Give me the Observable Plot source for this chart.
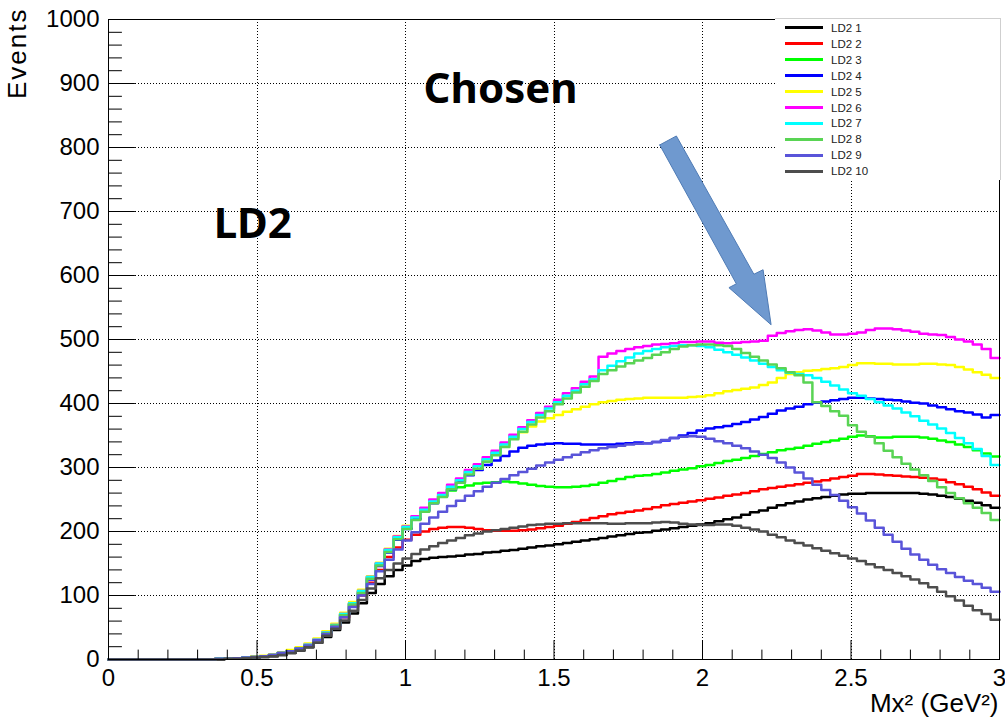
<!DOCTYPE html>
<html>
<head>
<meta charset="utf-8">
<script src="https://cdn.jsdelivr.net/npm/d3@7"></script>
<script src="https://cdn.jsdelivr.net/npm/@observablehq/plot@0.6"></script>
<style>
html, body { margin: 0; padding: 0; background: #fff; }
#wrap { position: relative; width: 1005px; height: 719px; overflow: hidden; background: #fff; }
#legend { position: absolute; left: 775px; top: 18px; width: 226px; height: 162px; background: #fff;
  border-top: 1px solid #cfcfcf; border-right: 1px solid #cfcfcf; box-sizing: border-box;
  font-family: "Liberation Sans", Arial, sans-serif; }
.lrow { position: absolute; left: 0; width: 100%; height: 16px; }
.lline { position: absolute; left: 10px; width: 38px; height: 3px; top: 6.5px; }
.ltext { position: absolute; left: 56px; top: 0; font-size: 11.5px; line-height: 16px; color: #222; white-space: pre; }
</style>
</head>
<body>
<div id="wrap"><div id="legend"></div></div>
<script>
// ---------- data ----------
const binWidth = 0.03; // 100 bins over [0, 3]
const seriesNames = ["LD2 1", "LD2 2", "LD2 3", "LD2 4", "LD2 5", "LD2 6", "LD2 7", "LD2 8", "LD2 9", "LD2 10"];
const seriesColors = ["#000000", "#ff0000", "#00ff00", "#0000ff", "#ffff00", "#ff00ff", "#00ffff", "#59d454", "#5954d9", "#4d4d4d"];

const ld2_1 = [0,0,0,0,0,0,0,0,0,0,0,0,
  0,1,1,2,3,4,5,7,10,14,19,26,
  35,46,58,72,88,104,118,130,140,147,154,157,159,160,
  161,162,164,165,167,168,170,171,173,175,177,178,180,182,184,186,188,190,192,194,196,198,
  199,201,203,205,207,209,211,
  213,216,219,222,226,230,233,237,241,244,247,250,252,254,256,258,259,259,260,260,260,260,260,260,259,258,256,254,251,248,245,241,237];
const ld2_2 = [0,0,0,0,0,0,0,0,0,0,0,0,
  1,1,2,3,4,5,7,10,13,17,22,30,
  40,51,66,83,100,120,140,160,175,187,195,200,204,206,
  207,207,206,204,202,201,201,201,202,203,205,207,209,212,215,218,221,224,227,229,231,233,
  235,238,241,243,245,247,249,
  251,253,256,258,260,263,266,268,270,272,274,276,278,280,283,285,287,290,290,289,288,287,286,285,284,283,281,277,274,270,266,261,256];
const ld2_3 = [0,0,0,0,0,0,0,0,0,0,0,0,
  1,1,2,3,4,5,7,10,13,17,23,31,
  42,54,71,88,106,128,149,170,190,205,220,234,246,256,
  264,269,272,275,276,277,278,277,275,273,271,270,269,269,270,271,273,276,279,282,285,287,
  288,290,292,295,297,299,302,
  304,307,310,312,315,318,321,324,327,329,331,334,337,340,342,345,348,350,349,347,347,348,348,348,347,345,342,340,336,332,327,322,317];
const ld2_4 = [0,0,0,0,0,0,0,0,0,0,0,0,
  1,1,2,3,4,5,7,10,13,17,23,31,
  42,54,70,87,104,125,146,167,187,204,219,232,244,255,
  266,277,288,296,304,311,318,325,331,334,336,337,338,337,337,336,336,336,336,337,338,339,
  338,340,342,346,350,354,358,
  361,363,365,368,371,375,379,384,389,392,395,399,401,403,405,407,409,409,408,407,406,405,403,401,400,397,394,391,388,386,383,378,382];
const ld2_5 = [0,0,0,0,0,0,0,0,0,0,0,0,
  1,1,2,3,5,6,8,11,15,19,25,33,
  44,56,73,90,109,130,151,173,193,209,223,236,249,259,
  271,281,294,302,312,323,335,346,355,364,372,377,382,387,391,395,399,402,404,406,407,408,
  409,409,409,409,409,410,411,
  413,416,419,421,423,425,429,433,440,446,449,451,452,454,455,457,460,463,463,462,462,461,461,461,462,462,461,460,457,453,449,445,440];
const ld2_6 = [0,0,0,0,0,0,0,0,0,0,0,0,
  1,1,2,3,4,5,7,10,13,17,23,31,
  42,54,71,88,107,129,150,172,192,208,224,237,250,260,
  273,283,296,305,316,326,339,351,363,374,385,395,406,416,424,434,442,473,478,482,485,488,
  490,492,493,494,496,496,497,
  497,495,494,495,496,497,498,506,510,513,515,516,514,511,508,508,509,511,515,517,517,516,514,512,509,508,507,504,500,497,492,485,471];
const ld2_7 = [0,0,0,0,0,0,0,0,0,0,0,0,
  1,1,2,3,4,5,7,10,13,17,23,31,
  42,54,71,88,107,129,150,171,191,207,222,234,247,257,
  270,280,293,302,313,323,336,348,360,371,382,392,402,412,420,430,438,452,459,466,472,478,
  482,485,488,490,491,491,490,
  488,484,480,476,472,467,462,457,452,448,446,444,440,434,428,422,416,412,407,402,397,392,386,380,373,367,361,354,346,338,329,318,304];
const ld2_8 = [0,0,0,0,0,0,0,0,0,0,0,0,
  1,1,2,3,4,5,7,10,13,17,22,30,
  41,53,69,86,104,126,147,168,188,204,218,231,244,254,
  266,276,289,298,309,319,332,344,356,367,378,388,399,408,417,426,435,446,452,458,463,467,
  471,476,480,485,489,491,492,
  492,491,490,485,479,473,467,461,455,449,444,433,402,396,388,381,366,356,348,338,326,316,306,297,288,279,269,260,252,244,237,229,218];
const ld2_9 = [0,0,0,0,0,0,0,0,0,0,0,0,
  1,1,2,3,4,5,7,10,13,17,22,30,
  40,51,66,82,100,118,138,156,172,186,199,212,222,231,
  240,248,256,263,270,276,282,288,293,298,303,308,312,316,320,324,327,330,332,334,336,337,
  338,340,343,346,348,349,348,
  345,341,338,334,330,325,320,315,308,300,292,283,273,265,257,248,238,228,217,206,195,184,173,164,156,148,141,135,129,123,118,112,106];
const ld2_10 = [0,0,0,0,0,0,0,0,0,0,0,0,
  0,1,1,2,3,4,5,7,10,14,19,26,
  37,48,61,76,93,111,127,140,150,158,165,172,177,182,
  186,190,194,197,200,202,204,206,208,210,211,212,212,213,213,213,213,213,212,212,213,213,
  213,214,215,214,212,211,210,
  210,211,211,209,206,203,200,195,191,186,182,178,174,170,166,162,158,154,149,144,140,135,130,125,119,113,106,99,92,84,77,71,62];
const seriesValues = [ld2_1, ld2_2, ld2_3, ld2_4, ld2_5, ld2_6, ld2_7, ld2_8, ld2_9, ld2_10];

const xMajorTicks = [0, 0.5, 1, 1.5, 2, 2.5, 3];
const xGridLines = [0.5, 1, 1.5, 2, 2.5];
const yMajorTicks = [0, 100, 200, 300, 400, 500, 600, 700, 800, 900, 1000];
const yGridLines = [100, 200, 300, 400, 500, 600, 700, 800, 900];
const xMinorTicks = d3.range(1, 30).map(k => k / 10).filter(v => Math.abs(v * 2 - Math.round(v * 2)) > 1e-9);
const yMinorTicks = d3.range(20, 1000, 20).filter(v => v % 100 !== 0);

const annotations = [
  {label: "LD2", x: 0.354, y: 659},
  {label: "Chosen", x: 1.061, y: 869}
];
// block arrow outline, in data coordinates
const arrowOutline = [
  {x: 1.856, y: 804}, {x: 1.912, y: 818}, {x: 2.173, y: 602}, {x: 2.204, y: 609},
  {x: 2.231, y: 523}, {x: 2.089, y: 581}, {x: 2.114, y: 587}, {x: 1.856, y: 804}
];
const xTitle = "Mx² (GeV²)";
const yTitle = "Events";

// ---------- marks ----------
const tickShape = {draw(context, l) { context.moveTo(0, 0); context.lineTo(0, -l); }};

const histMarks = seriesValues.map((vals, k) => {
  const pts = vals.map((v, i) => ({x: i * binWidth, y: v}));
  pts.push({x: vals.length * binWidth, y: vals[vals.length - 1]});
  return Plot.line(pts, {x: "x", y: "y", curve: "step-after", stroke: seriesColors[k], strokeWidth: 2.5});
});

const chart = Plot.plot({
  width: 1005,
  height: 719,
  marginLeft: 108,
  marginRight: 6,
  marginTop: 19,
  marginBottom: 60,
  style: {fontFamily: "'Liberation Sans', Arial, sans-serif", fontSize: "24px", color: "black", background: "white"},
  x: {domain: [0, 3], ticks: xMajorTicks, tickFormat: d => String(d), tickSize: 0, tickPadding: 9, label: null},
  y: {domain: [0, 1000], ticks: yMajorTicks, tickFormat: d => String(d), tickSize: 0, tickPadding: 9, label: null},
  marks: [
    Plot.ruleX(xGridLines, {stroke: "black", strokeWidth: 1, strokeDasharray: "1,2", shapeRendering: "crispEdges"}),
    Plot.ruleY(yGridLines, {stroke: "black", strokeWidth: 1, strokeDasharray: "1,2", shapeRendering: "crispEdges"}),
    ...histMarks,
    Plot.frame({stroke: "black", strokeWidth: 1, shapeRendering: "crispEdges"}),
    Plot.vector(yMajorTicks, {y: d => d, frameAnchor: "left", rotate: 90, length: 26, anchor: "start", shape: tickShape, stroke: "black", strokeWidth: 1}),
    Plot.vector(yMinorTicks, {y: d => d, frameAnchor: "left", rotate: 90, length: 13, anchor: "start", shape: tickShape, stroke: "black", strokeWidth: 1}),
    Plot.vector(xMajorTicks, {x: d => d, frameAnchor: "bottom", rotate: 0, length: 19, anchor: "start", shape: tickShape, stroke: "black", strokeWidth: 1}),
    Plot.vector(xMinorTicks, {x: d => d, frameAnchor: "bottom", rotate: 0, length: 9.5, anchor: "start", shape: tickShape, stroke: "black", strokeWidth: 1}),
    Plot.line(arrowOutline, {x: "x", y: "y", fill: "#6f99cf", stroke: "#4f7bb5", strokeWidth: 1, curve: "linear"}),
    Plot.text(annotations, {x: "x", y: "y", text: "label", textAnchor: "start", lineAnchor: "bottom",
      fontSize: 42, fontWeight: 700, fontFamily: "'Noto Sans', sans-serif", fill: "black"}),
    Plot.text([xTitle], {frameAnchor: "bottom-right", textAnchor: "end", lineAnchor: "bottom", dx: -1, dy: 52, fontSize: 26}),
    Plot.text([yTitle], {frameAnchor: "top-left", rotate: -90, textAnchor: "end", lineAnchor: "top", dx: -101, dy: -12, fontSize: 26})
  ]
});

const wrap = document.getElementById("wrap");
wrap.insertBefore(chart, wrap.firstChild);
chart.style.position = "absolute";
chart.style.left = "0px";
chart.style.top = "0px";
chart.querySelectorAll("text").forEach(t => { if (t.textContent === yTitle) t.style.letterSpacing = "2px"; });

// legend
const legend = document.getElementById("legend");
seriesNames.forEach((name, k) => {
  const row = document.createElement("div");
  row.className = "lrow";
  row.style.top = (0.7 + 15.96 * k) + "px";
  const line = document.createElement("div");
  line.className = "lline";
  line.style.background = seriesColors[k];
  const txt = document.createElement("div");
  txt.className = "ltext";
  txt.textContent = name;
  row.appendChild(line);
  row.appendChild(txt);
  legend.appendChild(row);
});
</script>
</body>
</html>
